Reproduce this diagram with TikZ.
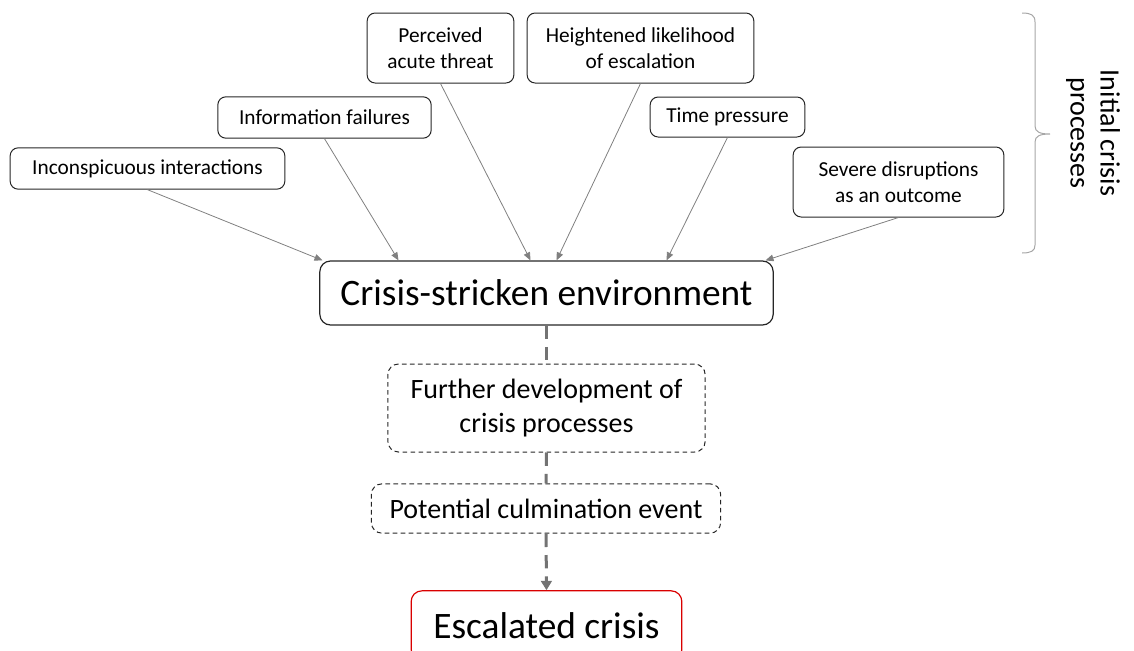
\documentclass[tikz,border=0pt]{standalone}
\usepackage{fontspec}
\setmainfont{Carlito}
\usetikzlibrary{arrows.meta,calc}

\tikzset{
  factor/.style={draw=black!85, line width=0.75pt, rounded corners=6pt, align=center,
    inner sep=0pt, font=\fontsize{16}{19.5}\selectfont},
  hub/.style={draw=black!85, line width=0.9pt, rounded corners=8pt, align=center,
    inner sep=0pt, font=\fontsize{28}{34}\selectfont},
  stagebox/.style={draw=black!85, line width=0.75pt, dash pattern=on 3.5pt off 2.5pt,
    rounded corners=8pt, align=center, inner sep=0pt, font=\fontsize{21}{26}\selectfont},
  outcome/.style={hub, draw=red!85!black},
  feed/.style={draw=black!50, line width=0.6pt, -{Triangle[length=6pt,width=5pt]}},
  flow/.style={draw=black!55, line width=2.25pt, dash pattern=on 10pt off 6pt},
}

\begin{document}
\begin{tikzpicture}[x=0.75pt, y=-0.75pt]
    \useasboundingbox (0,0) rectangle (1134,650);

    % Initial crisis processes
    \node[factor, minimum width=206pt, minimum height=31pt] (inc) at (147.5,168.5) {Inconspicuous interactions};
    \node[factor, minimum width=160pt, minimum height=31pt] (inf) at (324.5,117.5) {Information failures};
    \node[factor, minimum width=110pt, minimum height=52.5pt] (per) at (440.5,48) {Perceived\\acute threat};
    \node[factor, minimum width=170pt, minimum height=52.5pt] (hei) at (640.5,48) {Heightened likelihood\\of escalation};
    \node[factor, minimum width=116pt, minimum height=30pt] (tim) at (727.5,117) {Time pressure};
    \node[factor, minimum width=158pt, minimum height=52.5pt] (sev) at (898.5,182) {Severe disruptions\\as an outcome};

    % Environment and later stages
    \node[hub, minimum width=340pt, minimum height=48pt] (env) at (546.5,293) {Crisis-stricken environment};
    \node[stagebox, minimum width=238pt, minimum height=66pt] (fur) at (546.5,408) {Further development of\\crisis processes};
    \node[stagebox, minimum width=262pt, minimum height=37pt] (pot) at (546,508.5) {Potential culmination event};
    \node[outcome, minimum width=203pt, minimum height=52pt] (esc) at (546.5,625.5) {Escalated crisis};

    % Feeding arrows
    \draw[feed] (inc.south) -- ($(env.north)+(-224,0)$);
    \draw[feed] (inf.south) -- ($(env.north)+(-148,0)$);
    \draw[feed] (per.south) -- ($(env.north)+(-16,0)$);
    \draw[feed] (hei.south) -- ($(env.north)+(10,0)$);
    \draw[feed] (tim.south) -- ($(env.north)+(120,0)$);
    \draw[feed] (sev.south) -- ($(env.north)+(219,0)$);

    % Dashed progression
    \draw[flow] (env.south) -- (fur.north);
    \draw[flow] (fur.south) -- (pot.north);
    \draw[flow, -{Triangle[length=7pt,width=8pt]}] (pot.south) -- (esc.north);

    % Brace and label
    \draw[black!35, line width=0.75pt] (1022,13) .. controls (1031,13) and (1035,15) .. (1035,22)
      -- (1035,126) .. controls (1035,132) and (1040,134) .. (1050,134)
      .. controls (1040,134) and (1035,136) .. (1035,142)
      -- (1035,245) .. controls (1035,251) and (1031,253) .. (1022,253);
    \node[rotate=-90, align=center, font=\fontsize{21}{22.5}\selectfont] (lbl) at (1093,133) {Initial crisis\\processes};
\end{tikzpicture}
\end{document}
